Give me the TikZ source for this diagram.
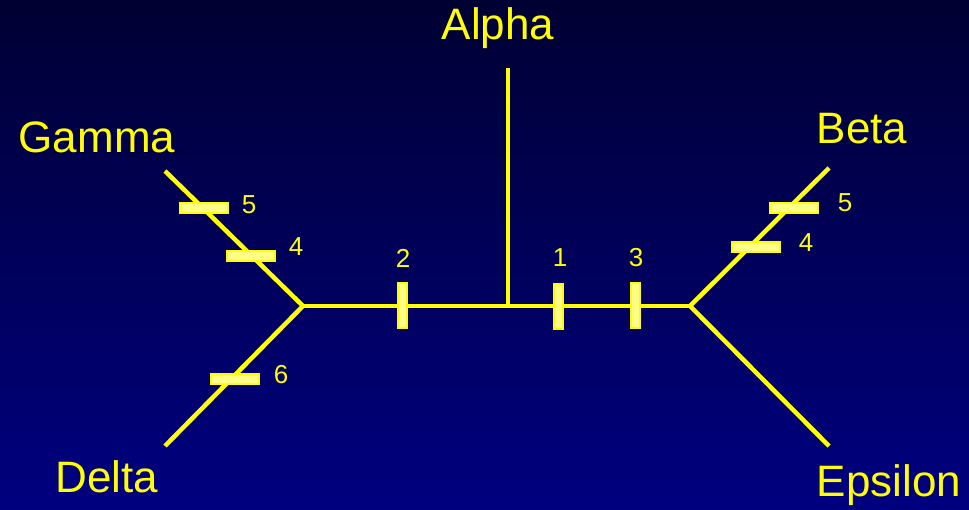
\documentclass[tikz,border=0pt]{standalone}
\usepackage{fontspec}
\setmainfont{Liberation Sans}
\definecolor{ylw}{HTML}{FFFF00}
\definecolor{ltylw}{HTML}{FFFF88}
\definecolor{bgtop}{HTML}{000033}
\definecolor{bgbot}{HTML}{000080}
\begin{document}
\begin{tikzpicture}[x=1pt,y=-1pt,
  branch/.style={draw=ylw,line width=4.5pt},
  vtick/.style={draw=ylw,fill=ltylw,line width=2pt,rectangle,minimum width=9pt,minimum height=45pt,inner sep=0pt},
  htick/.style={draw=ylw,fill=ltylw,line width=2pt,rectangle,minimum width=48pt,minimum height=10pt,inner sep=0pt},
  taxon/.style={text=ylw,font=\fontsize{44}{48}\selectfont,inner sep=0pt},
  num/.style={text=ylw,font=\fontsize{26}{30}\selectfont,inner sep=0pt}]
\shade[top color=bgtop,bottom color=bgbot] (0,0) rectangle (969,510);
\useasboundingbox (0,0) rectangle (969,510);
% coordinates
\coordinate (jl) at (303,306);
\coordinate (jr) at (690,306);
\coordinate (ja) at (508,306);
\coordinate (la) at (508,68);
\coordinate (lg) at (165,171);
\coordinate (ld) at (165,446);
\coordinate (lb) at (829,168);
\coordinate (le) at (829,446);
% branches
\draw[branch] (jl) -- (jr);
\draw[branch] (ja) -- (la);
\draw[branch] (lg) -- (jl) -- (ld);
\draw[branch] (lb) -- (jr) -- (le);
% ticks on central branch
\node[vtick] (t2) at (402,306) {};
\node[vtick] (t1) at (558,307) {};
\node[vtick] (t3) at (635,306) {};
\node[num] (n2) at (403,258) {2};
\node[num] (n1) at (560,258) {1};
\node[num] (n3) at (636,258) {3};
% Gamma ticks
\node[htick] (g5) at (204,208) {};
\node[htick] (g4) at (251,256) {};
\node[num] (ng5) at (249,205) {5};
\node[num] (ng4) at (296,247) {4};
% Delta tick
\node[htick] (d6) at (235,379) {};
\node[num] (nd6) at (281,375) {6};
% Beta ticks
\node[htick] (b5) at (794,208) {};
\node[htick] (b4) at (756,247) {};
\node[num] (nb5) at (845,203) {5};
\node[num] (nb4) at (806,243) {4};
% taxon labels
\node[taxon] (alpha) at (498,28) {Alpha};
\node[taxon] (gamma) at (97,137) {Gamma};
\node[taxon] (beta) at (862,129) {Beta};
\node[taxon] (delta) at (107,477) {Delta};
\node[taxon] (eps) at (889,485) {Epsilon};
\end{tikzpicture}
\end{document}
